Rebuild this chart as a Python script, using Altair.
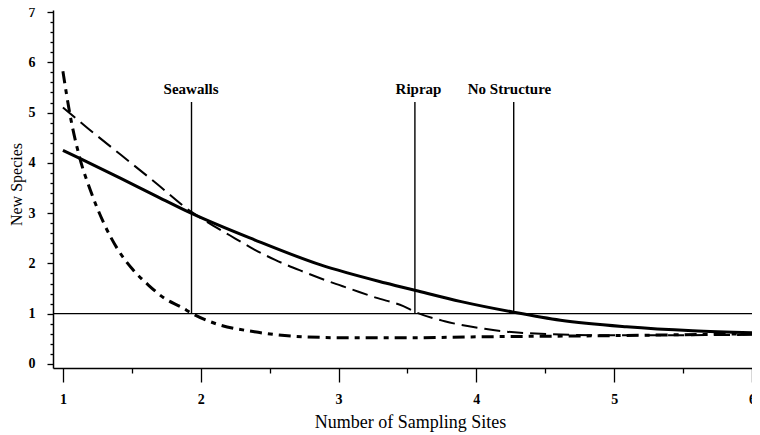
import altair as alt
import pandas as pd

# Seawalls curve (dash-dot)
sw_x = [1.0, 1.05, 1.12, 1.2, 1.3, 1.4, 1.51, 1.62, 1.74, 1.86, 1.94, 2.1, 2.39, 2.75, 3.1, 3.5, 4.0, 4.85, 6.0]
sw_y = [5.82, 4.98, 4.12, 3.45, 2.78, 2.27, 1.87, 1.57, 1.30, 1.13, 1.0, 0.81, 0.64, 0.54, 0.52, 0.52, 0.54, 0.56, 0.60]

# Riprap curve (long dash)
rr_x = [1.0, 1.18, 1.42, 1.67, 1.93, 2.02, 2.21, 2.38, 2.54, 2.74, 2.91, 3.09, 3.27, 3.47, 3.56, 3.77, 4.06, 4.32, 5.0, 6.0]
rr_y = [5.10, 4.69, 4.16, 3.61, 3.03, 2.87, 2.56, 2.29, 2.07, 1.84, 1.66, 1.49, 1.32, 1.15, 1.03, 0.85, 0.70, 0.62, 0.57, 0.58]

# No Structure curve (solid)
ns_x = [1.0, 1.13, 1.42, 1.67, 1.93, 2.39, 2.87, 3.34, 3.56, 3.89, 4.27, 4.61, 5.09, 5.57, 6.0]
ns_y = [4.25, 4.08, 3.69, 3.35, 3.0, 2.47, 1.97, 1.61, 1.46, 1.24, 1.03, 0.87, 0.74, 0.66, 0.62]

# Vertical markers
marker_names = ["Seawalls", "Riprap", "No Structure"]
marker_x = [1.933, 3.554, 4.271]
marker_label_x = [1.93, 3.58, 4.24]
marker_bottom = [1.0, 1.0, 1.0]
marker_top = [5.21, 5.21, 5.21]
label_y = [5.37, 5.37, 5.37]

threshold = [1.0]

x_ticks = [1, 1.5, 2, 2.5, 3, 3.5, 4, 4.5, 5, 5.5, 6]
y_ticks = [0, 0.2, 0.4, 0.6, 0.8, 1, 1.2, 1.4, 1.6, 1.8, 2, 2.2, 2.4, 2.6, 2.8, 3,
           3.2, 3.4, 3.6, 3.8, 4, 4.2, 4.4, 4.6, 4.8, 5, 5.2, 5.4, 5.6, 5.8, 6,
           6.2, 6.4, 6.6, 6.8, 7]

FONT = "Liberation Serif"
IS_INT = "abs(datum.value - round(datum.value)) < 0.001"

xscale = alt.Scale(domain=[0.928, 6.0], nice=False, zero=False)
yscale = alt.Scale(domain=[-0.08, 7.04], nice=False, zero=False)

xaxis = alt.Axis(
    values=x_ticks,
    labelExpr=f"{IS_INT} ? format(datum.value, '.0f') : ''",
    tickSize={"condition": {"test": IS_INT, "value": 14}, "value": 5},
    labelPadding=10,
    title="Number of Sampling Sites",
    grid=False,
    domainColor="black", domainWidth=1.5,
    tickColor="black", tickWidth=1.3,
    labelFont=FONT, labelFontWeight="bold", labelFontSize=14, labelColor="black",
    labelFlush=False, labelOverlap=False,
    titleFont=FONT, titleFontSize=18, titleFontWeight="normal", titleColor="black",
    titleX=357, titleY=59, titleBaseline="alphabetic",
)

yaxis = alt.Axis(
    values=y_ticks,
    labelExpr=f"{IS_INT} ? format(datum.value, '.0f') : ''",
    tickSize={"condition": {"test": IS_INT, "value": 6}, "value": 3},
    labelPadding=12,
    title="New Species",
    grid=False,
    domainColor="black", domainWidth=1.5,
    tickColor="black", tickWidth=1.3,
    labelFont=FONT, labelFontWeight="bold", labelFontSize=14, labelColor="black",
    labelFlush=False, labelOverlap=False,
    titleFont=FONT, titleFontSize=16, titleFontWeight="normal", titleColor="black",
    titleX=-32, titleY=174, titleBaseline="alphabetic",
)

sw = pd.DataFrame({"x": sw_x, "y": sw_y})
rr = pd.DataFrame({"x": rr_x, "y": rr_y})
ns = pd.DataFrame({"x": ns_x, "y": ns_y})
markers = pd.DataFrame({
    "name": marker_names, "x": marker_x, "lx": marker_label_x,
    "y0": marker_bottom, "y1": marker_top, "ly": label_y,
})
hline = pd.DataFrame({"y": threshold})


def X(field):
    return alt.X(field, scale=xscale, axis=xaxis)


def Y(field):
    return alt.Y(field, scale=yscale, axis=yaxis)


ns_line = alt.Chart(ns).mark_line(color="black", strokeWidth=3, interpolate="monotone").encode(
    x=X("x:Q"), y=Y("y:Q"), order="x:Q")
rr_line = alt.Chart(rr).mark_line(color="black", strokeWidth=2, strokeDash=[16, 7], interpolate="monotone").encode(
    x=X("x:Q"), y=Y("y:Q"), order="x:Q")
sw_line = alt.Chart(sw).mark_line(color="black", strokeWidth=3, strokeDash=[12, 6, 5, 6], interpolate="monotone").encode(
    x=X("x:Q"), y=Y("y:Q"), order="x:Q")

h_rule = alt.Chart(hline).mark_rule(color="black", strokeWidth=1.3).encode(y=Y("y:Q"))

v_rules = alt.Chart(markers).mark_rule(color="black", strokeWidth=1.4).encode(
    x=X("x:Q"), y=Y("y0:Q"), y2="y1:Q")

labels = alt.Chart(markers).mark_text(
    font=FONT, fontWeight="bold", fontSize=15, color="black", baseline="alphabetic", align="center"
).encode(x=X("lx:Q"), y=Y("ly:Q"), text="name:N")

chart = alt.layer(ns_line, rr_line, sw_line, h_rule, v_rules, labels).properties(
    width=699, height=358,
    autosize=alt.AutoSizeParams(type="none"),
    padding={"left": 45, "top": 2, "right": 0, "bottom": 67},
    background="white",
).configure_view(stroke=None)

chart.save("out.html", embed_options={"renderer": "svg", "actions": False})
